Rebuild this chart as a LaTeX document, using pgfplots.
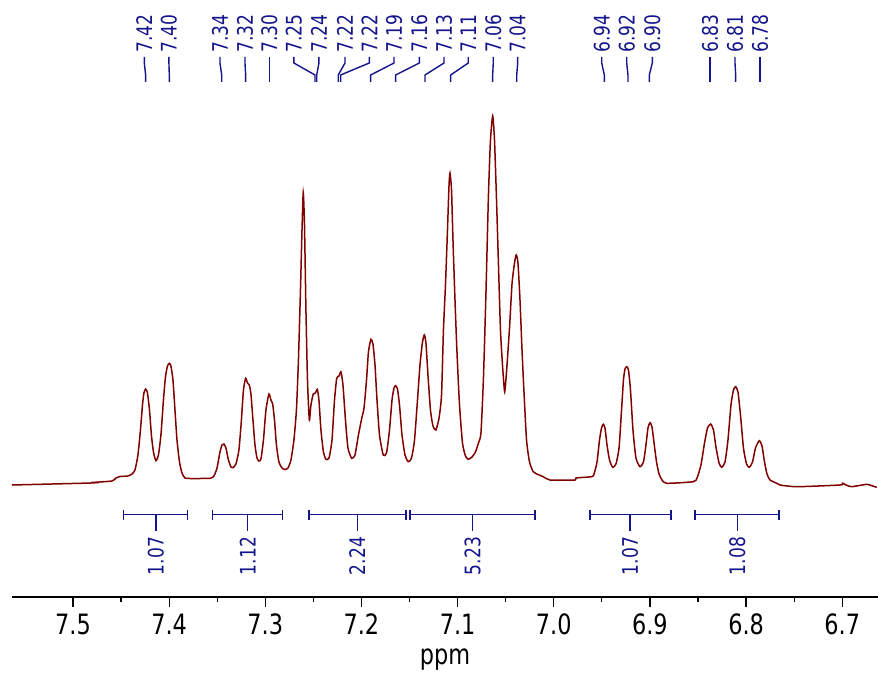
\documentclass[border=0pt]{standalone}
\usepackage{fontspec}
\setmainfont{DejaVu Sans}[FakeStretch=0.8]
\usepackage{pgfplots}
\pgfplotsset{compat=1.18}
\definecolor{spec}{RGB}{128,0,0}
\definecolor{ann}{RGB}{20,20,140}
\newcommand\pklabel{\fontsize{10.7}{12}\selectfont}
\newcommand\tklabel{\fontsize{14}{16}\selectfont}

\begin{document}
\begin{tikzpicture}
\begin{axis}[
  name=ax,
  scale only axis, width=433pt, height=298.5pt,
  x dir=reverse, xmin=6.6628, xmax=7.5634, ymin=-112, ymax=485,
  axis x line*=bottom, axis y line=none,
  x axis line style={-, line width=0.6pt},
  xtick={6.7,6.8,6.9,7.0,7.1,7.2,7.3,7.4,7.5}, minor x tick num=1,
  tick align=outside, major tick length=5pt, minor tick length=2.5pt,
  tick style={black, line width=0.6pt},
  x tick label style={font=\tklabel,
    /pgf/number format/fixed, /pgf/number format/fixed zerofill,
    /pgf/number format/precision=1, /pgf/number format/assume math mode=true},
  xlabel={ppm}, xlabel style={font=\tklabel},
  clip=false,
]
% spectrum, intensity in arbitrary units
\addplot[spec, line width=0.75pt, smooth, tension=0.35] coordinates {
(7.5634,0) (7.4813,2) (7.4802,2.5) (7.4594,4) (7.4553,7) (7.4511,8.5) (7.4428,9) (7.4386,11)
(7.4355,15) (7.4324,30) (7.4298,55) (7.4277,80) (7.4262,92) (7.4244,96) (7.4225,92) (7.4204,75)
(7.4184,50) (7.4163,33) (7.4137,24.3) (7.4111,30) (7.4085,50) (7.4059,85) (7.4038,108) (7.4017,119)
(7.3998,121.7) (7.3981,119) (7.3960,105) (7.3939,75) (7.3918,45) (7.3892,23) (7.3866,12) (7.3835,7)
(7.3783,6.5) (7.3575,6.7) (7.3534,9) (7.3502,17) (7.3471,33) (7.3450,40) (7.3430,41) (7.3409,37)
(7.3383,25) (7.3357,18) (7.3336,17.3) (7.3305,21) (7.3274,35) (7.3248,65) (7.3227,95) (7.3204,106.7)
(7.3185,102) (7.3166,100) (7.3149,91) (7.3128,65) (7.3107,40) (7.3086,27) (7.3066,24) (7.3045,26)
(7.3019,45) (7.2993,75) (7.2962,91) (7.2941,85) (7.2923,81) (7.2904,65) (7.2884,40) (7.2858,23)
(7.2826,17) (7.2795,15.5) (7.2764,17) (7.2733,25) (7.2702,45) (7.2676,75) (7.2655,125) (7.2634,195)
(7.2618,255) (7.2605,292.3) (7.2592,260) (7.2577,175) (7.2561,105) (7.2542,65) (7.2525,80) (7.2501,91)
(7.2478,92) (7.2459,95.7) (7.2442,85) (7.2421,55) (7.2395,33) (7.2369,25.7) (7.2337,27) (7.2306,45)
(7.2280,85) (7.2257,106.7) (7.2233,109) (7.2213,113.3) (7.2192,100) (7.2166,65) (7.2140,37) (7.2101,26.7)
(7.2067,30) (7.2031,50) (7.1997,66.7) (7.1973,77) (7.1947,105) (7.1927,133) (7.1901,145.7) (7.1880,141)
(7.1859,120) (7.1838,85) (7.1812,50) (7.1773,30) (7.1739,32) (7.1708,55) (7.1682,85) (7.1661,97)
(7.1644,99.3) (7.1625,96) (7.1604,80) (7.1578,50) (7.1547,30) (7.1513,23.3) (7.1479,27) (7.1448,45)
(7.1417,85) (7.1391,120) (7.1365,143) (7.1346,150) (7.1329,142) (7.1308,110) (7.1282,75) (7.1256,59)
(7.1225,55) (7.1193,67) (7.1167,90) (7.1147,155) (7.1126,200) (7.1105,255) (7.1089,300) (7.1079,311.7)
(7.1063,295) (7.1048,245) (7.1027,185) (7.1006,132) (7.0980,80) (7.0949,42) (7.0918,29) (7.0889,25.7)
(7.0850,28) (7.0814,33) (7.0783,42) (7.0757,52) (7.0731,107) (7.0705,192) (7.0679,290) (7.0658,345)
(7.0635,369) (7.0616,345) (7.0595,285) (7.0575,221) (7.0554,155) (7.0533,120) (7.0510,93.3) (7.0486,120)
(7.0460,157) (7.0434,201) (7.0408,222) (7.0390,230) (7.0372,222) (7.0351,185) (7.0330,135) (7.0309,92)
(7.0283,45) (7.0252,23) (7.0213,13.3) (7.0164,10.5) (7.0109,8.3) (7.0039,5) (6.9779,5) (6.9769,7)
(6.9605,8.3) (6.9581,11) (6.9550,23) (6.9524,45) (6.9503,57) (6.9485,60.7) (6.9467,57) (6.9446,40)
(6.9420,25) (6.9387,17.7) (6.9353,21) (6.9321,37) (6.9295,75) (6.9275,105) (6.9259,116) (6.9241,118.3)
(6.9223,115) (6.9202,95) (6.9176,55) (6.9145,27) (6.9103,18.3) (6.9067,23) (6.9041,40) (6.9020,57)
(6.8999,62.3) (6.8978,58) (6.8957,42) (6.8931,23) (6.8905,11) (6.8874,5) (6.8825,1.7) (6.8549,3.3)
(6.8510,7) (6.8469,20) (6.8432,42) (6.8401,57) (6.8368,61) (6.8339,55) (6.8313,38) (6.8281,22)
(6.8253,17.7) (6.8219,23) (6.8188,45) (6.8157,80) (6.8131,95) (6.8108,98.3) (6.8084,93) (6.8058,70)
(6.8027,37) (6.7995,21) (6.7966,17.7) (6.7933,23) (6.7902,37) (6.7862,44.3) (6.7834,39) (6.7808,23)
(6.7782,11) (6.7751,5) (6.7681,1.7) (6.7647,0) (6.7473,-1.7) (6.7023,0) (6.6995,1.7) (6.6960,0)
(6.6901,-1.7) (6.6745,0.7) (6.6700,-0.5) (6.6641,-2.3)
};
% peak picking labels: label position / peak position / text
\foreach \lp/\pp/\t in {7.4258/7.4244/7.42, 7.4002/7.3998/7.40, 7.3471/7.3453/7.34,
  7.3211/7.3204/7.32, 7.2958/7.2958/7.30, 7.2702/7.2483/7.25, 7.2442/7.2465/7.24,
  7.2171/7.2241/7.22, 7.1918/7.2216/7.22, 7.1661/7.1904/7.19, 7.1398/7.1644/7.16,
  7.1141/7.1339/7.13, 7.0889/7.1072/7.11, 7.0629/7.0635/7.06, 7.0375/7.0385/7.04,
  6.9501/6.9474/6.94, 6.9241/6.9228/6.92, 6.8975/6.9006/6.90, 6.8375/6.8375/6.83,
  6.8115/6.8108/6.81, 6.7855/6.7855/6.78}{
  \edef\next{\noexpand\draw[ann, line width=0.7pt] (axis cs:\lp,428) -- (axis cs:\lp,422)
    -- (axis cs:\pp,410) -- (axis cs:\pp,403);
    \noexpand\node[rotate=90, anchor=west, inner sep=0pt, text=ann, font=\noexpand\pklabel]
    at (axis cs:\lp,432) {\t};}
  \next
}
% integrals: left / right / centre / value
\foreach \l/\r/\c/\v in {7.4477/7.3807/7.4137/1.07, 7.3551/7.2823/7.3183/1.12,
  7.2546/7.1537/7.2043/2.24, 7.1495/7.0195/7.0843/5.23,
  6.9623/6.8781/6.9207/1.07, 6.8531/6.7657/6.8091/1.08}{
  \edef\next{\noexpand\draw[ann, line width=0.7pt] (axis cs:\l,-29.5) -- (axis cs:\r,-29.5)
    (axis cs:\l,-24.5) -- (axis cs:\l,-34.5) (axis cs:\r,-24.5) -- (axis cs:\r,-34.5)
    (axis cs:\c,-29.5) -- (axis cs:\c,-45.5);
    \noexpand\node[rotate=90, anchor=east, inner sep=0pt, text=ann, font=\noexpand\pklabel]
    at (axis cs:\c,-51.5) {\v};}
  \next
}
\end{axis}
\pgfresetboundingbox
\path ([shift={(-6pt,-39pt)}]ax.south west) rectangle (ax.north east);
\end{tikzpicture}
\end{document}
